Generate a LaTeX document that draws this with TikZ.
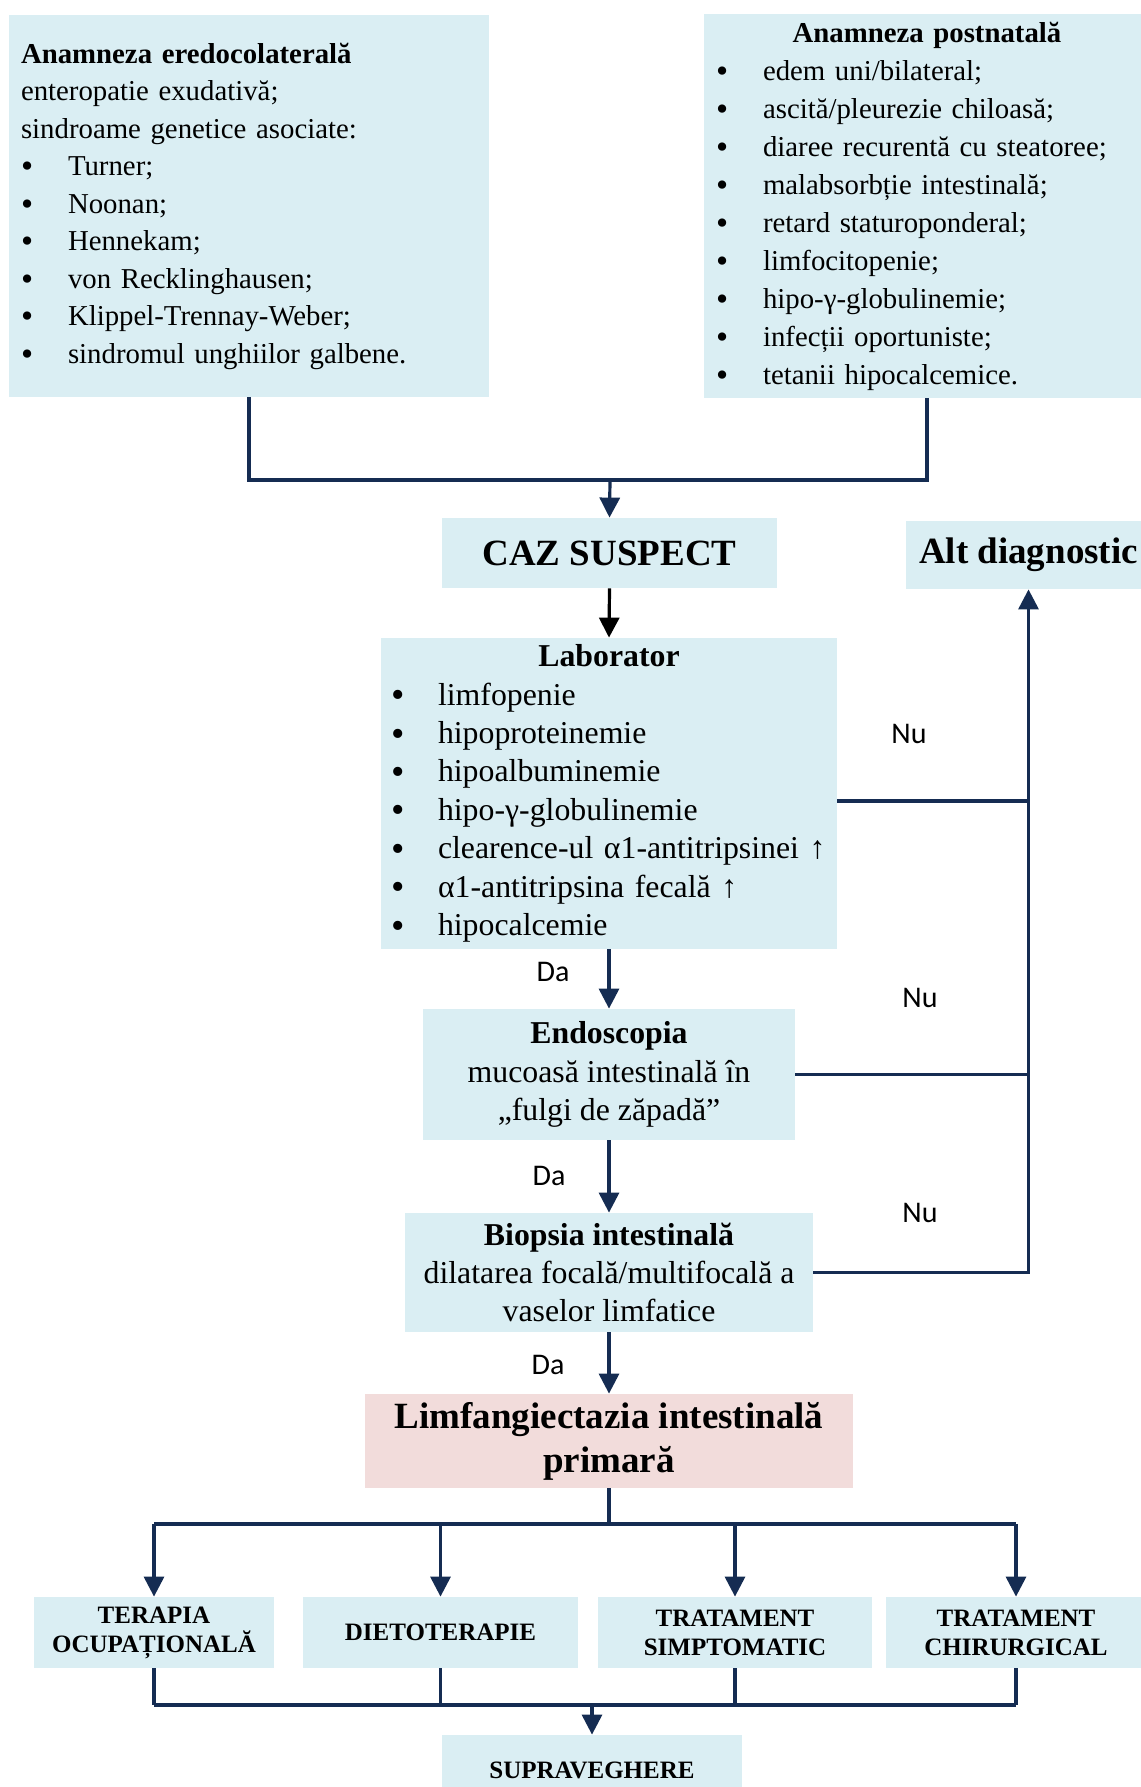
\documentclass[tikz,border=0pt]{standalone}
\usepackage{fontspec}
\setmainfont{Liberation Serif}
\newfontfamily\calibrifont{Carlito}
\usepackage{tikz}
\usetikzlibrary{arrows.meta}
\definecolor{lightaqua}{HTML}{DAEEF3}
\definecolor{lightrose}{HTML}{F2DCDB}
\definecolor{darknavy}{HTML}{152C52}
\newcommand{\boxcolor}{lightaqua}
\newcommand{\linecolor}{darknavy}
\newcommand{\thickness}{1.6pt}
\newcommand{\tightskip}{\lineskiplimit=-20pt\relax}
\newcommand{\itm}[1]{\makebox[23.5pt][l]{\raisebox{-0.08em}{\scalebox{1.2}{\textbullet}}}#1}

\begin{document}
\begin{tikzpicture}[x=0.5pt,y=-0.5pt,
  infobox/.style={fill=\boxcolor, inner xsep=6pt, inner ysep=0pt, align=left},
  smallfont/.style={font=\fontsize{14.4}{19}\selectfont\tightskip},
  midfont/.style={font=\fontsize{15.9}{19.2}\selectfont\tightskip},
  bigfont/.style={font=\bfseries\fontsize{18.5}{22}\selectfont\tightskip},
  capsfont/.style={font=\bfseries\fontsize{12.5}{14.5}\selectfont\tightskip},
  answer/.style={font=\calibrifont\fontsize{15}{18}\selectfont, inner sep=0pt},
  conn/.style={draw=\linecolor, line width=\thickness},
  arrowline/.style={conn, -{Triangle[length=10pt,width=10pt]}}]
\useasboundingbox (0,0) rectangle (1140,1787);
% anamneza
\node[infobox, font=\fontsize{14.4}{18.75}\selectfont\tightskip, text width=228pt, minimum height=191pt] (eredo) at (249,206)
  {\textbf{Anamneza eredocolaterală}\\ enteropatie exudativă;\\ sindroame genetice asociate:\\
   \itm{Turner;}\\ \itm{Noonan;}\\ \itm{Hennekam;}\\ \itm{von Recklinghausen;}\\
   \itm{Klippel-Trennay-Weber;}\\ \itm{sindromul unghiilor galbene.}};
\node[infobox, smallfont, text width=211pt, minimum height=192pt] (postnat) at (927,206)
  {\makebox[211pt]{\textbf{Anamneza postnatală}}\\ \itm{edem uni/bilateral;}\\
   \itm{ascită/pleurezie chiloasă;}\\ \itm{diaree recurentă cu steatoree;}\\
   \itm{malabsorbție intestinală;}\\ \itm{retard staturoponderal;}\\ \itm{limfocitopenie;}\\
   \itm{hipo-γ-globulinemie;}\\ \itm{infecții oportuniste;}\\ \itm{tetanii hipocalcemice.}};
% diagnostic
\node[infobox, bigfont, minimum width=167.5pt, minimum height=35pt] (suspect) at (609.5,553) {CAZ SUSPECT};
\node[infobox, bigfont, minimum width=122.5pt, minimum height=34pt] (altdiag) at (1028.5,555) {Alt diagnostic};
\node[infobox, midfont, inner xsep=5pt, text width=218pt, minimum height=155.5pt] (lab) at (609,793.5)
  {\makebox[218pt]{\textbf{Laborator}}\\ \itm{limfopenie}\\ \itm{hipoproteinemie}\\
   \itm{hipoalbuminemie}\\ \itm{hipo-γ-globulinemie}\\ \itm{\mbox{clearence-ul α1-antitripsinei ↑}}\\
   \itm{α1-antitripsina fecală ↑}\\ \itm{hipocalcemie}};
\node[infobox, midfont, align=center, minimum width=186pt, minimum height=65.5pt] (endo) at (609,1074.5)
  {\textbf{Endoscopia}\\ mucoasă intestinală în\\ „fulgi de zăpadă”};
\node[infobox, midfont, align=center, minimum width=204pt, minimum height=59.5pt] (biopsy) at (609,1272.5)
  {\textbf{Biopsia intestinală}\\ dilatarea focală/multifocală a\\ vaselor limfatice};
\node[infobox, bigfont, fill=lightrose, align=center, minimum width=244pt, minimum height=47pt] (limf) at (609,1441)
  {Limfangiectazia intestinală\\ primară};
% tratament
\node[infobox, capsfont, align=center, minimum width=120pt, minimum height=35.5pt] (terapia) at (154,1632.5) {TERAPIA\\ OCUPAȚIONALĂ};
\node[infobox, capsfont, align=center, minimum width=137.5pt, minimum height=35.5pt] (dieta) at (440.5,1632.5) {DIETOTERAPIE};
\node[infobox, capsfont, align=center, minimum width=137pt, minimum height=35.5pt] (simpt) at (735,1632.5) {TRATAMENT\\ SIMPTOMATIC};
\node[infobox, capsfont, align=center, minimum width=130pt, minimum height=35.5pt] (chirurg) at (1016,1632.5) {TRATAMENT\\ CHIRURGICAL};
\node[infobox, capsfont, align=center, minimum width=150pt, minimum height=35.5pt] (suprav) at (592,1770.5) {SUPRAVEGHERE};
% etichete
\node[answer] (nu1) at (909,734) {Nu};
\node[answer] (nu2) at (920,998) {Nu};
\node[answer] (nu3) at (920,1213) {Nu};
\node[answer] (da1) at (553,972) {Da};
\node[answer] (da2) at (549,1176) {Da};
\node[answer] (da3) at (548,1365) {Da};
% legaturi
\coordinate (join1) at (610,480);
\coordinate (split) at (609,1524);
\coordinate (join2) at (592,1705);
\draw[conn] (eredo.south) |- (join1) -| (postnat.south);
\draw[arrowline] (join1) -- (suspect.north);
\draw[arrowline, draw=black] (suspect.south) -- (lab.north);
\draw[arrowline] (lab.south) -- (endo.north);
\draw[arrowline] (endo.south) -- (biopsy.north);
\draw[arrowline] (biopsy.south) -- (limf.north);
\draw[conn] ([yshift=-3.75pt]lab.east) -- ([yshift=-3.75pt]lab.east -| altdiag.south);
\draw[conn] (endo.east) -- (endo.east -| altdiag.south);
\draw[arrowline] (biopsy.east) -| (altdiag.south);
\draw[conn] (limf.south) -- (split);
\draw[conn] (terapia.north |- split) -- (chirurg.north |- split);
\foreach \b in {terapia,dieta,simpt,chirurg}
  \draw[arrowline] (\b.north |- split) -- (\b.north);
\foreach \b in {terapia,dieta,simpt,chirurg}
  \draw[conn] (\b.south) -- (\b.south |- join2);
\draw[conn] (terapia.south |- join2) -- (chirurg.south |- join2);
\draw[arrowline] (join2) -- (suprav.north);
\end{tikzpicture}
\end{document}
